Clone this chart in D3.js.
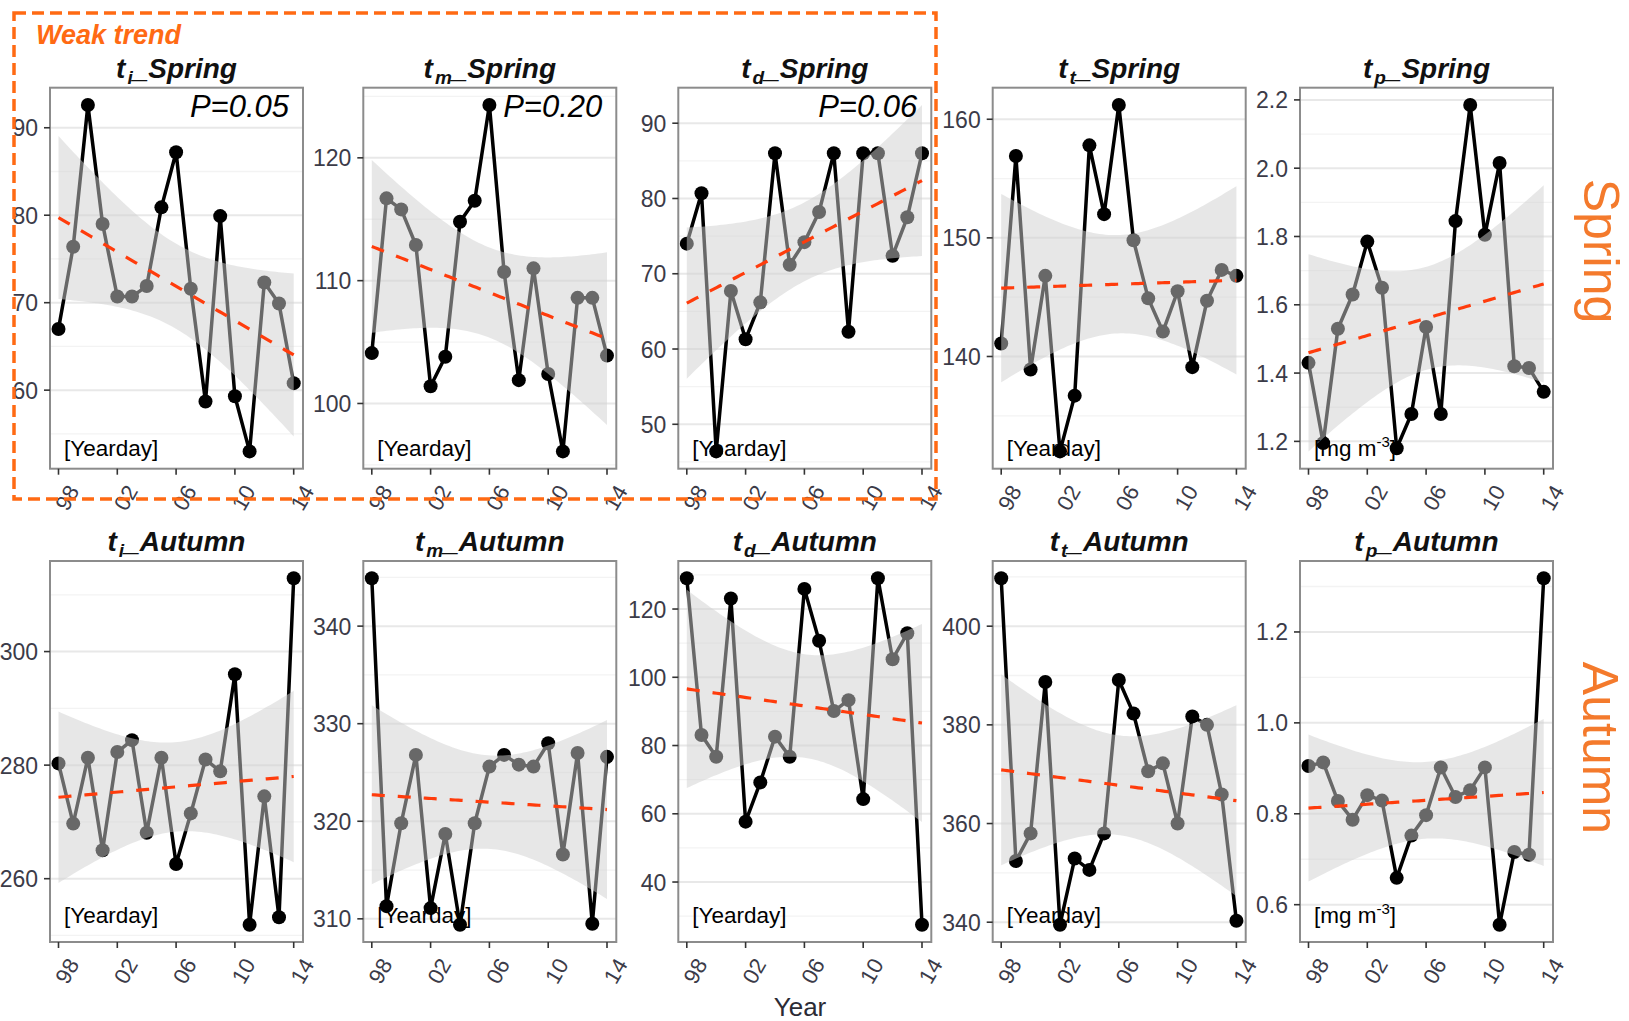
<!DOCTYPE html>
<html>
<head>
<meta charset="utf-8">
<script src="https://cdn.jsdelivr.net/npm/d3@7"></script>
<style>
  body { margin: 0; background: #fff; }
  svg { display: block; }
  text { font-family: "Liberation Sans", Arial, Helvetica, sans-serif; }
</style>
</head>
<body>
<svg id="chart" width="1629" height="1021"></svg>
<script>
// ---- data -------------------------------------------------------------
const years = [1998, 1999, 2000, 2001, 2002, 2003, 2004, 2005, 2006, 2007, 2008, 2009, 2010, 2011, 2012, 2013, 2014];
const xTickYears = [1998, 2002, 2006, 2010, 2014];
const xTickLabels = ["98", "02", "06", "10", "14"];

// spring phenology metrics
const tiSpring = [67.0, 76.4, 92.6, 79.0, 70.7, 70.7, 71.9, 80.9, 87.2, 71.6, 58.7, 79.9, 59.3, 53.0, 72.3, 69.9, 60.8];
const tmSpring = [104.1, 116.7, 115.8, 112.9, 101.4, 103.8, 114.8, 116.5, 124.3, 110.7, 101.9, 111.0, 102.4, 96.1, 108.6, 108.6, 103.9];
const tdSpring = [74.0, 80.7, 46.4, 67.7, 61.3, 66.2, 86.0, 71.2, 74.2, 78.2, 86.0, 62.3, 86.0, 86.0, 72.4, 77.5, 86.0];
const ttSpring = [141.1, 156.9, 138.9, 146.8, 132.0, 136.7, 157.8, 152.0, 161.2, 149.8, 144.9, 142.1, 145.5, 139.1, 144.7, 147.3, 146.8];
const tpSpring = [1.43, 1.195, 1.53, 1.63, 1.785, 1.65, 1.18, 1.28, 1.535, 1.28, 1.845, 2.185, 1.805, 2.015, 1.42, 1.415, 1.345];

// autumn phenology metrics
const tiAutumn = [280.3, 269.7, 281.3, 265.0, 282.3, 284.4, 268.1, 281.3, 262.6, 271.5, 281.0, 278.9, 296.0, 251.9, 274.5, 253.2, 312.9];
const tmAutumn = [344.9, 311.3, 319.8, 326.8, 311.1, 318.7, 309.4, 319.8, 325.6, 326.8, 325.8, 325.6, 328.0, 316.6, 327.0, 309.5, 326.6];
const tdAutumn = [129.0, 83.1, 76.7, 123.1, 57.7, 69.2, 82.6, 76.7, 125.9, 110.7, 90.1, 93.3, 64.3, 129.0, 105.3, 112.9, 27.5];
const ttAutumn = [409.7, 352.4, 358.0, 388.7, 339.5, 352.9, 350.6, 358.0, 389.1, 382.3, 370.6, 372.2, 360.0, 381.7, 380.0, 365.9, 340.3];
const tpAutumn = [0.905, 0.913, 0.828, 0.787, 0.841, 0.829, 0.659, 0.752, 0.797, 0.902, 0.837, 0.852, 0.902, 0.556, 0.716, 0.710, 1.318];

// y-axis breaks per panel
const yTicksTiSpring = [60, 70, 80, 90];
const yTicksTmSpring = [100, 110, 120];
const yTicksTdSpring = [50, 60, 70, 80, 90];
const yTicksTtSpring = [140, 150, 160];
const yTicksTpSpring = [1.2, 1.4, 1.6, 1.8, 2.0, 2.2];
const yTicksTiAutumn = [260, 280, 300];
const yTicksTmAutumn = [310, 320, 330, 340];
const yTicksTdAutumn = [40, 60, 80, 100, 120];
const yTicksTtAutumn = [340, 360, 380, 400];
const yTicksTpAutumn = [0.6, 0.8, 1.0, 1.2];

const metricSymbols = ["i", "m", "d", "t", "p"];
const seasons = ["Spring", "Autumn"];
const pValues = ["P=0.05", "P=0.20", "P=0.06", null, null];
const unitLabels = ["[Yearday]", "[Yearday]", "[Yearday]", "[Yearday]", "mg"];

const seriesGrid = [
  [tiSpring, tmSpring, tdSpring, ttSpring, tpSpring],
  [tiAutumn, tmAutumn, tdAutumn, ttAutumn, tpAutumn]
];
const tickGrid = [
  [yTicksTiSpring, yTicksTmSpring, yTicksTdSpring, yTicksTtSpring, yTicksTpSpring],
  [yTicksTiAutumn, yTicksTmAutumn, yTicksTdAutumn, yTicksTtAutumn, yTicksTpAutumn]
];

// ---- layout -----------------------------------------------------------
const colLeft = [50, 363.3, 678.3, 992.7, 1300];
const panelW = 253;
const rowTop = [87.7, 561];
const panelH = 381;
const T_CRIT = 2.131; // Student t, 0.975 quantile, 15 df

const svg = d3.select("#chart");

// ordinary least squares with 95% confidence band
function linearFit(xs, ys) {
  const n = xs.length;
  const xm = d3.mean(xs), ym = d3.mean(ys);
  const sxx = d3.sum(xs, x => (x - xm) ** 2);
  const sxy = d3.sum(xs.map((x, i) => (x - xm) * (ys[i] - ym)));
  const b = sxy / sxx, a = ym - b * xm;
  const sse = d3.sum(xs.map((x, i) => (ys[i] - (a + b * x)) ** 2));
  const s = Math.sqrt(sse / (n - 2));
  return x => {
    const yhat = a + b * x;
    const se = s * Math.sqrt(1 / n + (x - xm) ** 2 / sxx);
    return { x, y: yhat, lo: yhat - T_CRIT * se, hi: yhat + T_CRIT * se };
  };
}

seasons.forEach((season, r) => {
  metricSymbols.forEach((sym, c) => {
    const values = seriesGrid[r][c];
    const ticks = tickGrid[r][c];
    const left = colLeft[c], top = rowTop[r];
    const g = svg.append("g").attr("transform", `translate(${left},${top})`);

    const pts = years.map((yr, i) => ({ x: yr, y: values[i] }));
    const model = linearFit(years, values);
    const xMin = years[0], xMax = years[years.length - 1];
    const band = d3.range(80).map(i => model(xMin + (xMax - xMin) * i / 79));

    const lo = Math.min(d3.min(values), d3.min(band, d => d.lo));
    const hi = Math.max(d3.max(values), d3.max(band, d => d.hi));
    const pad = (hi - lo) * 0.05;

    const x = d3.scaleLinear().domain([xMin, xMax]).range([8.5, panelW - 9.3]);
    const y = d3.scaleLinear().domain([lo - pad, hi + pad]).range([panelH, 0]);

    // minor grid at mid-breaks
    const step = ticks[1] - ticks[0];
    const minor = [ticks[0] - step / 2].concat(ticks.map(t => t + step / 2))
      .filter(v => v > y.domain()[0] && v < y.domain()[1]);
    g.selectAll("line.minor").data(minor).join("line")
      .attr("x1", 0).attr("x2", panelW)
      .attr("y1", d => y(d)).attr("y2", d => y(d))
      .attr("stroke", "#f3f3f3").attr("stroke-width", 1.3);
    g.selectAll("line.major").data(ticks).join("line")
      .attr("x1", 0).attr("x2", panelW)
      .attr("y1", d => y(d)).attr("y2", d => y(d))
      .attr("stroke", "#e8e8e8").attr("stroke-width", 2);

    // observed series
    g.append("path").datum(pts)
      .attr("d", d3.line().x(d => x(d.x)).y(d => y(d.y)))
      .attr("fill", "none").attr("stroke", "#000")
      .attr("stroke-width", 3.5).attr("stroke-linejoin", "round");
    g.selectAll("circle.pt").data(pts).join("circle")
      .attr("cx", d => x(d.x)).attr("cy", d => y(d.y)).attr("r", 7)
      .attr("fill", "#000");

    // confidence band over the series
    g.append("path").datum(band)
      .attr("d", d3.area().x(d => x(d.x)).y0(d => y(d.lo)).y1(d => y(d.hi)))
      .attr("fill", "#d0d0d0").attr("fill-opacity", 0.5);

    // fitted trend
    g.append("path").datum(band)
      .attr("d", d3.line().x(d => x(d.x)).y(d => y(d.y)))
      .attr("fill", "none").attr("stroke", "#ff3c0c")
      .attr("stroke-width", 3.2).attr("stroke-dasharray", "13,13");

    // panel border
    g.append("rect").attr("width", panelW).attr("height", panelH)
      .attr("fill", "none").attr("stroke", "#8c8c8c").attr("stroke-width", 2);

    // y axis
    const yAxis = g.append("g");
    yAxis.selectAll("line").data(ticks).join("line")
      .attr("x1", -6).attr("x2", 0)
      .attr("y1", d => y(d)).attr("y2", d => y(d))
      .attr("stroke", "#333").attr("stroke-width", 1.6);
    yAxis.selectAll("text").data(ticks).join("text")
      .attr("x", -12).attr("y", d => y(d)).attr("dy", "0.37em")
      .attr("text-anchor", "end").attr("font-size", 23).attr("fill", "#3b3b48")
      .text(d => c === 4 ? d.toFixed(1) : d);

    // x axis
    const xAxis = g.append("g").attr("transform", `translate(0,${panelH})`);
    xAxis.selectAll("line").data(xTickYears).join("line")
      .attr("x1", d => x(d)).attr("x2", d => x(d))
      .attr("y1", 0).attr("y2", 6)
      .attr("stroke", "#333").attr("stroke-width", 1.6);
    xAxis.selectAll("text").data(xTickYears).join("text")
      .attr("transform", d => `translate(${x(d) + 8.5},29) rotate(-60)`)
      .attr("text-anchor", "middle").attr("dy", "0.35em")
      .attr("font-size", 22).attr("fill", "#3b3b48")
      .text((d, i) => xTickLabels[i]);

    // panel title
    const title = g.append("text")
      .attr("x", panelW / 2).attr("y", -10)
      .attr("text-anchor", "middle").attr("font-size", 28)
      .attr("font-weight", "bold").attr("font-style", "italic").attr("fill", "#111");
    title.append("tspan").text("t");
    title.append("tspan").attr("font-size", 19).attr("dy", 6).attr("dx", 2).text(sym);
    title.append("tspan").attr("dy", -6).text("_" + season);

    // p-value annotation
    if (r === 0 && pValues[c]) {
      g.append("text").attr("x", panelW - 14).attr("y", 29)
        .attr("text-anchor", "end").attr("font-size", 31)
        .attr("font-style", "italic").attr("fill", "#000")
        .text(pValues[c]);
    }

    // unit label
    const unit = g.append("text")
      .attr("x", 14).attr("y", panelH - (r === 0 ? 13 : 19))
      .attr("font-size", 22.5).attr("fill", "#000");
    if (unitLabels[c] === "mg") {
      unit.append("tspan").text("[mg m");
      unit.append("tspan").attr("font-size", 15).attr("dy", -9).text("-3");
      unit.append("tspan").attr("dy", 9).text("]");
    } else {
      unit.text(unitLabels[c]);
    }
  });
});

// highlighted group of weak-trend panels
svg.append("rect")
  .attr("x", 14).attr("y", 13).attr("width", 922).attr("height", 486)
  .attr("fill", "none").attr("stroke", "#ff6a13")
  .attr("stroke-width", 3.5).attr("stroke-dasharray", "12,6");
svg.append("text")
  .attr("x", 36).attr("y", 44)
  .attr("font-size", 27).attr("font-weight", "bold").attr("font-style", "italic")
  .attr("fill", "#ff6a13").text("Weak trend");

// season strip labels
[["Spring", 1584, 251], ["Autumn", 1583, 748]].forEach(([label, cx, cy]) => {
  svg.append("text")
    .attr("transform", `translate(${cx},${cy}) rotate(90)`)
    .attr("text-anchor", "middle").attr("font-size", 50)
    .attr("fill", "#f47a2c").text(label);
});

// shared x-axis title
svg.append("text")
  .attr("x", 800).attr("y", 1016).attr("text-anchor", "middle")
  .attr("font-size", 26).attr("fill", "#2b2b35").text("Year");
</script>
</body>
</html>
